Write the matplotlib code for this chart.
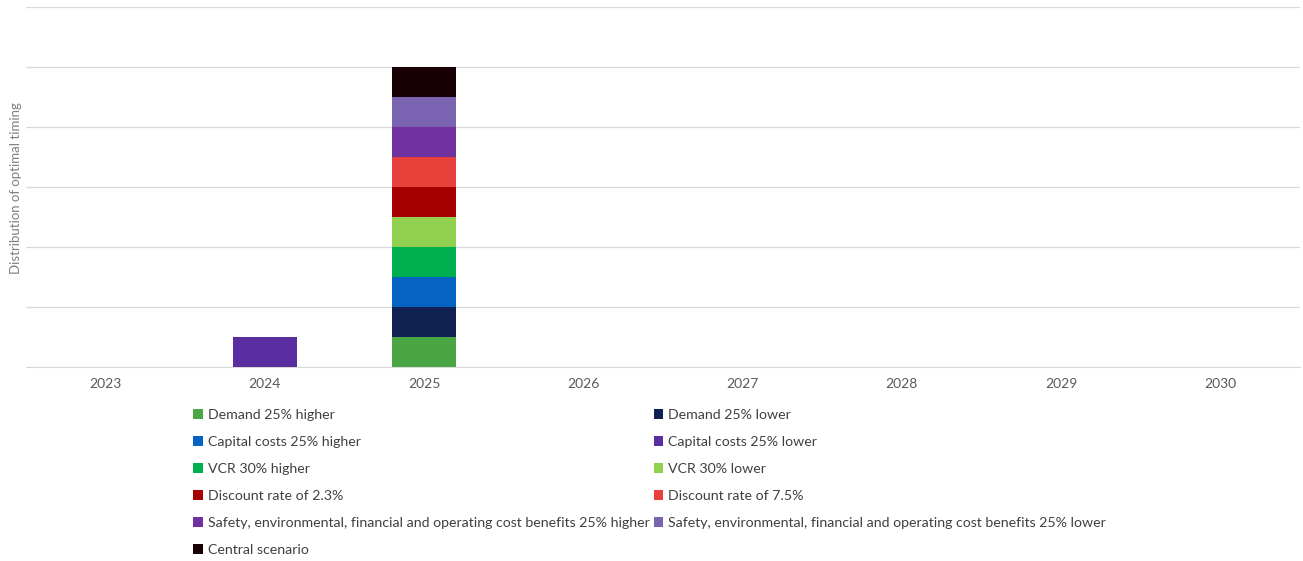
import matplotlib.pyplot as plt
import numpy as np

plt.rcParams["font.family"] = ["Lato", "DejaVu Sans"]

years = ["2023", "2024", "2025", "2026", "2027", "2028", "2029", "2030"]

scenarios = [
    "Demand 25% higher",
    "Demand 25% lower",
    "Capital costs 25% higher",
    "Capital costs 25% lower",
    "VCR 30% higher",
    "VCR 30% lower",
    "Discount rate of 2.3%",
    "Discount rate of 7.5%",
    "Safety, environmental, financial and operating cost benefits 25% higher",
    "Safety, environmental, financial and operating cost benefits 25% lower",
    "Central scenario",
]

colors = [
    "#4AA545", "#0E2150", "#0563C1", "#5A2EA0", "#00B050", "#92D050",
    "#A50000", "#E8403A", "#7030A0", "#7A64B2", "#180004",
]

# count of scenarios whose optimal timing falls in each year
counts = [
    [0, 0, 1, 0, 0, 0, 0, 0],
    [0, 0, 1, 0, 0, 0, 0, 0],
    [0, 0, 1, 0, 0, 0, 0, 0],
    [0, 1, 0, 0, 0, 0, 0, 0],
    [0, 0, 1, 0, 0, 0, 0, 0],
    [0, 0, 1, 0, 0, 0, 0, 0],
    [0, 0, 1, 0, 0, 0, 0, 0],
    [0, 0, 1, 0, 0, 0, 0, 0],
    [0, 0, 1, 0, 0, 0, 0, 0],
    [0, 0, 1, 0, 0, 0, 0, 0],
    [0, 0, 1, 0, 0, 0, 0, 0],
]

fig = plt.figure(figsize=(13.03, 5.61), dpi=100)
ax = fig.add_axes([0.02, 0.3458, 0.9777, 0.6417])

x = np.arange(len(years))
bottom = np.zeros(len(years))
handles = []
for name, col, vals in zip(scenarios, colors, counts):
    vals = np.array(vals, dtype=float)
    h = ax.bar(x, vals, width=0.4, bottom=bottom, color=col, label=name, zorder=3)
    handles.append(h)
    bottom += vals

ax.set_xlim(-0.5, len(years) - 0.5)
ax.set_ylim(0, 12)
ax.set_yticks(np.arange(0, 13, 2))
ax.yaxis.grid(True, color="#D9D9D9", linewidth=0.9, zorder=0)
ax.tick_params(axis="y", length=0, labelleft=False)
ax.tick_params(axis="x", length=0, labelsize=10, labelcolor="#595959", pad=8)
ax.set_xticks(x)
ax.set_xticklabels(years)
for s in ["top", "right", "left"]:
    ax.spines[s].set_visible(False)
ax.spines["bottom"].set_color("#D9D9D9")

fig.text(0.012, 0.665, "Distribution of optimal timing", rotation=90,
         fontsize=9.5, color="#7F7F7F", ha="center", va="center")

# row-wise legend order for two columns
order = [0, 2, 4, 6, 8, 10, 1, 3, 5, 7, 9]
leg = fig.legend([handles[i] for i in order], [scenarios[i] for i in order],
                 ncol=2, loc="upper left", bbox_to_anchor=(0.143, 0.284),
                 frameon=False, fontsize=10.2, handlelength=0.65, handleheight=0.65,
                 handletextpad=0.4, columnspacing=0.25, labelspacing=1.06,
                 borderpad=0, labelcolor="#404040")

fig.savefig("out.png", dpi=100)
